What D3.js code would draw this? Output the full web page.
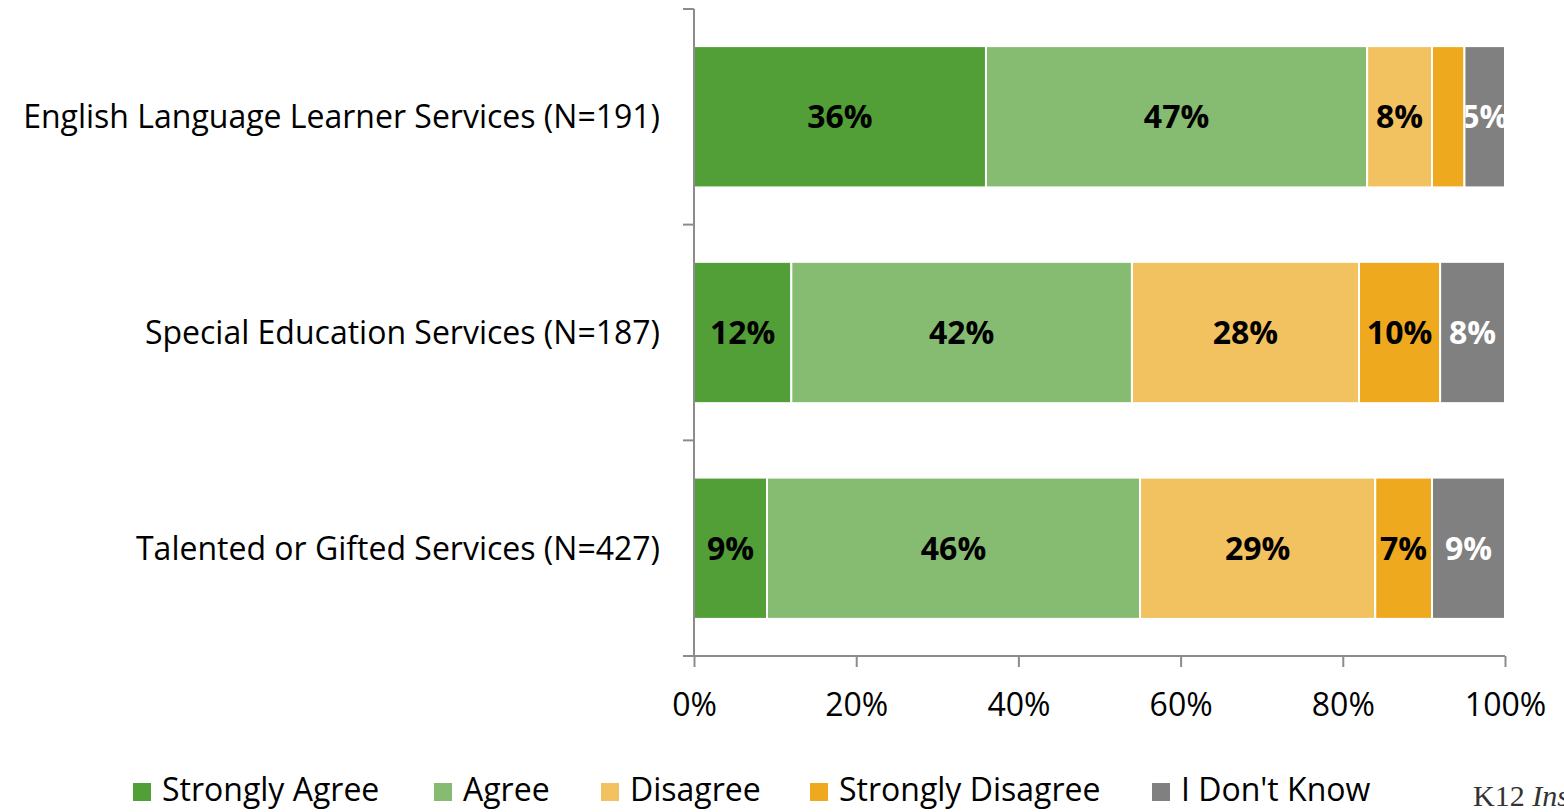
<!DOCTYPE html>
<html>
<head>
<meta charset="utf-8">
<script src="https://cdn.jsdelivr.net/npm/d3@7"></script>
<style>
  body { margin: 0; background: #fff; }
  svg { display: block; font-family: "Open Sans", "Noto Sans", sans-serif; }
</style>
</head>
<body>
<div id="chart"></div>
<script>
// categories (top to bottom) and series
const categories = [
  "English Language Learner Services (N=191)",
  "Special Education Services (N=187)",
  "Talented or Gifted Services (N=427)"
];
const seriesNames = ["Strongly Agree", "Agree", "Disagree", "Strongly Disagree", "I Don't Know"];
const stronglyAgree = [36, 12, 9];
const agree = [47, 42, 46];
const disagree = [8, 28, 29];
const stronglyDisagree = [4, 10, 7];
const dontKnow = [5, 8, 9];
const xTicks = [0, 20, 40, 60, 80, 100];

const colors = ["#529e37", "#86bc72", "#f2c261", "#efa91e", "#808080"];
const labelColors = ["#000", "#000", "#000", "#000", "#fff"];

const width = 1564, height = 812;
const margin = { top: 9, left: 694, right: 59, bottom: 156 };
const fontSize = 32;

const svg = d3.select("#chart").append("svg")
  .attr("width", width)
  .attr("height", height);

const x = d3.scaleLinear().domain([0, 100]).range([margin.left, width - margin.right]);
const y = d3.scaleBand().domain(categories).range([margin.top, height - margin.bottom]).paddingInner(0.345).paddingOuter(0.172);

// build stacked rows
const seriesValues = [stronglyAgree, agree, disagree, stronglyDisagree, dontKnow];
const rows = categories.map((c, i) => {
  const r = { cat: c };
  seriesNames.forEach((s, j) => r[s] = seriesValues[j][i]);
  return r;
});
const stacked = d3.stack().keys(seriesNames)(rows);

const defs = svg.append("defs");

stacked.forEach((layer, j) => {
  const g = svg.append("g");
  layer.forEach((d, i) => {
    const x0 = x(d[0]), x1 = x(d[1]);
    const yy = y(d.data.cat);
    g.append("rect")
      .attr("x", x0)
      .attr("y", yy)
      .attr("width", x1 - x0)
      .attr("height", y.bandwidth())
      .attr("fill", colors[j])
      .attr("stroke", "#fff")
      .attr("stroke-width", 2);
    const v = d[1] - d[0];
    if (v < 5) return; // tiny segment has no label
    const id = "clip" + j + "_" + i;
    defs.append("clipPath").attr("id", id)
      .append("rect")
      .attr("x", x0 + 1).attr("y", yy)
      .attr("width", x1 - x0 - 1).attr("height", y.bandwidth());
    g.append("text")
      .attr("clip-path", `url(#${id})`)
      .attr("x", (x0 + x1) / 2)
      .attr("y", yy + y.bandwidth() / 2)
      .attr("dy", "0.36em")
      .attr("text-anchor", "middle")
      .attr("font-size", fontSize)
      .attr("font-weight", "bold")
      .attr("fill", labelColors[j])
      .text(v + "%");
  });
});

// axes
const axisColor = "#8c8c8c";
const yAxis = svg.append("g");
yAxis.append("line")
  .attr("x1", margin.left).attr("x2", margin.left)
  .attr("y1", margin.top).attr("y2", height - margin.bottom)
  .attr("stroke", axisColor).attr("stroke-width", 2);
const bandEdges = categories.map(c => y(c) - y.step() * y.paddingInner() / 2);
bandEdges[0] = margin.top;
bandEdges.push(height - margin.bottom);
yAxis.selectAll("line.tick").data(bandEdges).enter().append("line")
  .attr("class", "tick")
  .attr("x1", margin.left - 11).attr("x2", margin.left)
  .attr("y1", d => d).attr("y2", d => d)
  .attr("stroke", axisColor).attr("stroke-width", 2);
yAxis.selectAll("text").data(categories).enter().append("text")
  .attr("x", 660)
  .attr("y", d => y(d) + y.bandwidth() / 2)
  .attr("dy", "0.36em")
  .attr("text-anchor", "end")
  .attr("font-size", fontSize)
  .attr("fill", "#000")
  .text(d => d);

const xAxis = svg.append("g")
  .attr("transform", `translate(0,${height - margin.bottom})`)
  .call(d3.axisBottom(x).tickValues(xTicks).tickFormat(d => d + "%").tickSize(11).tickPadding(26));
xAxis.select(".domain").attr("stroke", axisColor).attr("stroke-width", 2)
  .attr("d", `M${margin.left - 11},0H${width - margin.right}`);
xAxis.selectAll(".tick line").attr("stroke", axisColor).attr("stroke-width", 2);
xAxis.selectAll(".tick text").attr("font-size", fontSize).attr("fill", "#000")
  .attr("font-family", "'Open Sans', 'Noto Sans', sans-serif");

// legend
const legendX = [133, 434, 601, 810, 1152];
const legend = svg.append("g");
seriesNames.forEach((s, j) => {
  legend.append("rect")
    .attr("x", legendX[j]).attr("y", 783)
    .attr("width", 18).attr("height", 18)
    .attr("fill", colors[j]);
  legend.append("text")
    .attr("x", legendX[j] + 29).attr("y", 801)
    .attr("font-size", fontSize)
    .attr("fill", "#000")
    .text(s);
});

// watermark, cut off at the right edge as in the source
const wm = svg.append("text")
  .attr("x", 1473).attr("y", 806)
  .attr("font-family", "'Liberation Serif', 'DejaVu Serif', serif")
  .attr("font-size", 30)
  .attr("fill", "#333");
wm.append("tspan").text("K12 ");
wm.append("tspan").attr("font-style", "italic").text("Insight");
</script>
</body>
</html>
